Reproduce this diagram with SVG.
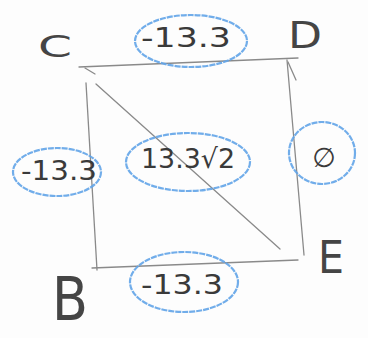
<svg xmlns="http://www.w3.org/2000/svg" width="368" height="338" viewBox="0 0 368 338">
<style>
.bg{fill:#fdfdfd}
.edge{stroke:#8a8a8a;stroke-width:1.3;fill:none;stroke-linecap:round}
.ring{fill:none;stroke:#62a4e8;stroke-width:2.2;stroke-dasharray:6 1;opacity:0.9}
.node{font-family:"DejaVu Sans",sans-serif;fill:#454545;text-anchor:middle}
.val{font-family:"DejaVu Sans",sans-serif;fill:#3a3a3a;text-anchor:middle;font-size:27px}
</style>
<rect class="bg" x="0" y="0" width="368" height="338"/>
<g id="connectors">
<path class="edge" d="M79,67 L298,58"/>
<path class="edge" d="M86,83 L97,270"/>
<path class="edge" d="M92,268 L298,260"/>
<path class="edge" d="M287,60 L304,255"/>
<path class="edge" d="M96,84 L280,249"/>
<path class="edge" d="M85,68 L95,74"/>
<path class="edge" d="M288,62 L296,80"/>
</g>
<g id="C"><text class="node" x="55" y="57" font-size="30" textLength="34" lengthAdjust="spacingAndGlyphs">C</text></g>
<g id="D"><text class="node" x="305" y="48" font-size="38" textLength="34" lengthAdjust="spacingAndGlyphs">D</text></g>
<g id="B"><text class="node" x="70" y="320" font-size="60" textLength="36" lengthAdjust="spacingAndGlyphs">B</text></g>
<g id="E"><text class="node" x="331" y="273" font-size="45" textLength="26" lengthAdjust="spacingAndGlyphs">E</text></g>
<g id="label-CD"><ellipse class="ring" cx="191" cy="41" rx="56" ry="26"/><text class="val" x="186" y="47" textLength="90" lengthAdjust="spacingAndGlyphs">-13.3</text></g>
<g id="label-CB"><ellipse class="ring" cx="57" cy="172" rx="44" ry="24"/><text class="val" x="59" y="180" textLength="76" lengthAdjust="spacingAndGlyphs">-13.3</text></g>
<g id="label-CE"><ellipse class="ring" cx="188" cy="162" rx="62" ry="29"/><text class="val" x="188" y="168" textLength="94" lengthAdjust="spacingAndGlyphs">13.3√2</text></g>
<g id="label-DE"><ellipse class="ring" cx="322" cy="153" rx="33" ry="31"/><text class="val" x="324" y="167" font-size="46">∅</text></g>
<g id="label-BE"><ellipse class="ring" cx="184" cy="282" rx="54" ry="30"/><text class="val" x="182" y="294" textLength="82" lengthAdjust="spacingAndGlyphs">-13.3</text></g>
</svg>
